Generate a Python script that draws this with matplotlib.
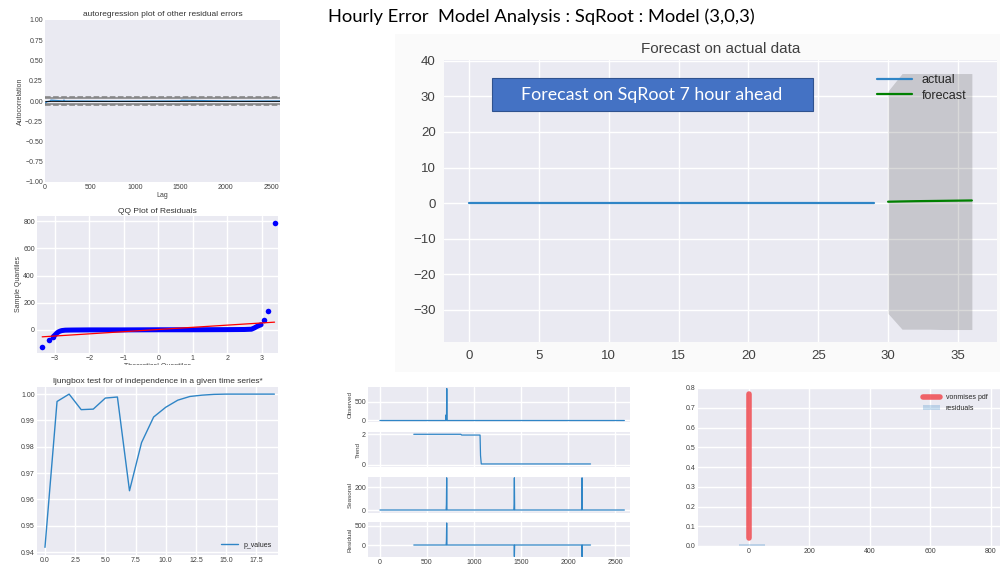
import matplotlib
matplotlib.use("Agg")
import matplotlib.pyplot as plt
from matplotlib.patches import Rectangle

W, H = 1000, 567

# autocorrelation of residuals (lag, value) and confidence levels
acf_lags = [1, 20, 60, 65, 200, 210, 220, 800, 1500, 1505, 2100, 2600]
acf_vals = [-0.03, -0.01, 0.0, 0.01, 0.0, 0.01, 0.0, -0.003, 0.0, 0.008, -0.002, 0.0]
acf_ci95 = 0.038
acf_ci99 = 0.050

# QQ plot of residuals: bulk of the points and the outlying tails
qq_body_x = [-3.05, -3.0, -2.95, -2.9, -2.85, -2.8, -2.7, -2.5, -2.0, -1.0, 0.0, 1.0,
             2.0, 2.5, 2.7, 2.78, 2.85, 2.92, 2.98]
qq_body_y = [-50, -38, -25, -15, -9, -5, -2, -1, 0, 0, 1, 1, 2, 3, 5, 14, 24, 32, 38]
qq_tail_x = [-3.37, -3.17, -3.05, 3.06, 3.17, 3.37]
qq_tail_y = [-125, -78, -52, 75, 142, 783]
qq_fit_x = [-3.37, 3.37]
qq_fit_y = [-51, 57]

# Ljung-Box p-values per lag
lb_lags = list(range(20))
lb_pvalues = [0.9418, 0.9972, 1.0000, 0.9941, 0.9943, 0.9985, 0.9989, 0.9633, 0.9816,
              0.9913, 0.9950, 0.9977, 0.9991, 0.9996, 0.9999, 1.0000, 1.0000, 1.0000,
              1.0000, 1.0000]

# seasonal decomposition (breakpoints of each component)
obs_x = [0, 700, 704, 706, 708, 711, 714, 2600]
obs_y = [0, 0, 150, 0, 0, 850, 0, 0]
trend_x = [360, 860, 870, 1065, 1070, 1078, 2240]
trend_y = [2.0, 2.0, 1.95, 1.95, 0.6, 0.05, 0.05]
seas_x = [0, 704, 707, 710, 713, 1424, 1427, 1430, 1433, 2144, 2147, 2150, 2153, 2600]
seas_y = [0, 0, 50, 280, 0, 0, 50, 280, 0, 0, 50, 280, 0, 0]
resid_x = [360, 704, 707, 710, 713, 1427, 1430, 1433, 2147, 2150, 2153, 2240]
resid_y = [0, 0, 100, 570, 0, 0, -300, 0, 0, -300, 0, 0]

# von Mises fit vs residual histogram
vm_x = [0, 0]
vm_y = [0.04, 0.77]
hist_left = [-32]
hist_width = [86]
hist_height = [0.01]

# forecast on actual data
actual_x = list(range(30))
actual_y = [0.15, 0.15, 0.15, 0.15, 0.15, 0.15, 0.15, 0.15, 0.15, 0.15,
            0.15, 0.15, 0.15, 0.15, 0.15, 0.15, 0.15, 0.15, 0.15, 0.15,
            0.15, 0.15, 0.15, 0.15, 0.15, 0.15, 0.15, 0.15, 0.15, 0.15]
fc_x = [30, 31, 32, 33, 34, 35, 36]
fc_y = [0.40, 0.48, 0.55, 0.60, 0.65, 0.70, 0.75]
fc_upper = [31.5, 36.4, 36.4, 36.4, 36.4, 36.4, 36.4]
fc_lower = [-31.0, -35.4, -35.4, -35.4, -35.5, -35.5, -35.5]

BLUE = "#2f85c6"

plt.style.use("seaborn-v0_8")
plt.rcParams["font.family"] = ["Liberation Sans", "DejaVu Sans"]
plt.rcParams["axes.labelcolor"] = ".25"
plt.rcParams["xtick.color"] = ".25"
plt.rcParams["ytick.color"] = ".25"


def px_axes(fig, left, top, right, bottom):
    return fig.add_axes([left / W, 1 - bottom / H, (right - left) / W, (bottom - top) / H])


def small(ax, size):
    ax.tick_params(labelsize=size, pad=1.5)
    for s in ax.spines.values():
        s.set_visible(False)


fig = plt.figure(figsize=(W / 100, H / 100), dpi=100)
fig.patch.set_facecolor("white")
fig.add_artist(Rectangle((395 / W, 1 - 372 / H), 605 / W, 338 / H,
                         transform=fig.transFigure, facecolor="#fafafa",
                         edgecolor="none", zorder=-5))

# autocorrelation
ax = px_axes(fig, 45, 20, 280, 182)
ax.plot(acf_lags, acf_vals, color=BLUE, lw=1.0)
for lvl, ls in [(acf_ci99, "--"), (acf_ci95, "-"), (-acf_ci95, "-"), (-acf_ci99, "--")]:
    ax.axhline(lvl, color="grey", ls=ls, lw=1.1)
ax.axhline(0, color="black", lw=0.6)
ax.set_xlim(0, 2600)
ax.set_ylim(-1, 1)
ax.set_yticks([-1, -0.75, -0.5, -0.25, 0, 0.25, 0.5, 0.75, 1])
ax.set_yticklabels(["−1.00", "−0.75", "−0.50", "−0.25", "0.00", "0.25", "0.50", "0.75", "1.00"])
ax.set_xticks([0, 500, 1000, 1500, 2000, 2500])
ax.grid(False)
ax.set_xlabel("Lag", fontsize=5, labelpad=1)
ax.set_ylabel("Autocorrelation", fontsize=5, labelpad=1)
ax.set_title("autoregression plot of other residual errors", fontsize=6, pad=3, color=".2")
small(ax, 5)

# QQ plot
ax = px_axes(fig, 37, 216, 278, 353)
ax.plot(qq_body_x, qq_body_y, color="blue", lw=3.6, solid_capstyle="round")
ax.plot(qq_tail_x, qq_tail_y, "o", color="blue", ms=4)
ax.plot(qq_fit_x, qq_fit_y, color="red", lw=0.9)
ax.set_xlim(-3.52, 3.47)
ax.set_ylim(-170, 838)
ax.set_xticks([-3, -2, -1, 0, 1, 2, 3])
ax.set_xticklabels(["−3", "−2", "−1", "0", "1", "2", "3"])
ax.set_yticks([0, 200, 400, 600, 800])
ax.set_xlabel("Theoretical Quantiles", fontsize=5, labelpad=1)
ax.set_ylabel("Sample Quantiles", fontsize=5, labelpad=1)
ax.set_title("QQ Plot of Residuals", fontsize=6, pad=2, color=".2")
small(ax, 5)
fig.add_artist(Rectangle((0, 1 - 372 / H), 290 / W, 7 / H, transform=fig.transFigure,
                         facecolor="white", edgecolor="none", zorder=10))

# Ljung-Box p-values
ax = px_axes(fig, 37, 387, 278, 555)
ax.plot(lb_lags, lb_pvalues, color=BLUE, lw=1.0, label="p_values")
ax.set_xlim(-0.66, 19.3)
ax.set_ylim(0.9389, 1.0027)
ax.set_xticks([0, 2.5, 5, 7.5, 10, 12.5, 15, 17.5])
ax.set_yticks([0.94, 0.95, 0.96, 0.97, 0.98, 0.99, 1.00])
ax.set_yticklabels(["0.94", "0.95", "0.96", "0.97", "0.98", "0.99", "1.00"])
ax.set_title("ljungbox test for of independence in a given time series*", fontsize=6,
             pad=3, color=".2")
ax.legend(loc="lower right", fontsize=5, frameon=False, handlelength=2.5)
small(ax, 5)

# seasonal decomposition
rows = [(387, 422, obs_x, obs_y, "Observed", (-40, 890), [0, 500]),
        (432, 467, trend_x, trend_y, "Trend", (-0.15, 2.15), [0, 2]),
        (477, 513, seas_x, seas_y, "Seasonal", (-26, 287), [0, 200]),
        (522, 557, resid_x, resid_y, "Residual", (-310, 595), [0, 500])]
for i, (top, bottom, xs, ys, name, ylim, yt) in enumerate(rows):
    ax = px_axes(fig, 368, top, 630, bottom)
    ax.plot(xs, ys, color=BLUE, lw=0.9)
    ax.set_xlim(-127, 2660)
    ax.set_ylim(*ylim)
    ax.set_yticks(yt)
    ax.set_xticks([0, 500, 1000, 1500, 2000, 2500])
    if i < 3:
        ax.set_xticklabels([])
    ax.set_ylabel(name, fontsize=4.5, labelpad=1)
    small(ax, 5)

# von Mises pdf over residuals
ax = px_axes(fig, 698, 388, 1000, 546)
ax.bar(hist_left, hist_height, width=hist_width, align="edge", color=BLUE, alpha=0.25,
       label="residuals")
ax.plot(vm_x, vm_y, color="#f04a50", lw=4, alpha=0.85, solid_capstyle="round",
        label="vonmises pdf")
ax.set_xlim(-168, 830)
ax.set_ylim(0, 0.8)
ax.set_xticks([0, 200, 400, 600, 800])
ax.set_yticks([0, 0.1, 0.2, 0.3, 0.4, 0.5, 0.6, 0.7, 0.8])
ax.legend(loc="upper right", fontsize=5, frameon=False, handlelength=2.5,
          bbox_to_anchor=(0.98, 1.0))
small(ax, 5)

# forecast on actual data
ax = px_axes(fig, 444, 60, 997, 342)
ax.fill_between(fc_x, fc_lower, fc_upper, color="k", alpha=0.15, lw=0)
ax.plot(actual_x, actual_y, color=BLUE, lw=1.6, label="actual")
ax.plot(fc_x, fc_y, color="green", lw=1.6, label="forecast")
ax.set_xlim(-1.8, 37.8)
ax.set_ylim(-39, 40.2)
ax.set_xticks([0, 5, 10, 15, 20, 25, 30, 35])
ax.set_yticks([-30, -20, -10, 0, 10, 20, 30, 40])
ax.set_yticklabels(["−30", "−20", "−10", "0", "10", "20", "30", "40"])
ax.set_title("Forecast on actual data", fontsize=11, pad=5, color=".25")
ax.legend(loc="upper right", fontsize=9, frameon=False, handlelength=2.8,
          bbox_to_anchor=(0.965, 0.99), labelspacing=0.3)
small(ax, 9.5)
ax.tick_params(pad=6)

# annotation box inside the forecast panel
fig.add_artist(Rectangle((492 / W, 1 - 111 / H), 321 / W, 33 / H,
                         transform=fig.transFigure, facecolor="#4472c4",
                         edgecolor="#2f528f", lw=0.8, zorder=5))
fig.text(652 / W, 1 - 95 / H, "Forecast on SqRoot 7 hour ahead", color="white",
         fontsize=12.8, family=["Lato", "DejaVu Sans"], ha="center", va="center",
         zorder=6)

fig.text(328 / W, 1 - 17 / H, "Hourly Error  Model Analysis : SqRoot : Model (3,0,3)",
         fontsize=13.2, family=["Lato", "DejaVu Sans"], ha="left", va="center",
         color="black")

fig.savefig("out.png", dpi=100)
